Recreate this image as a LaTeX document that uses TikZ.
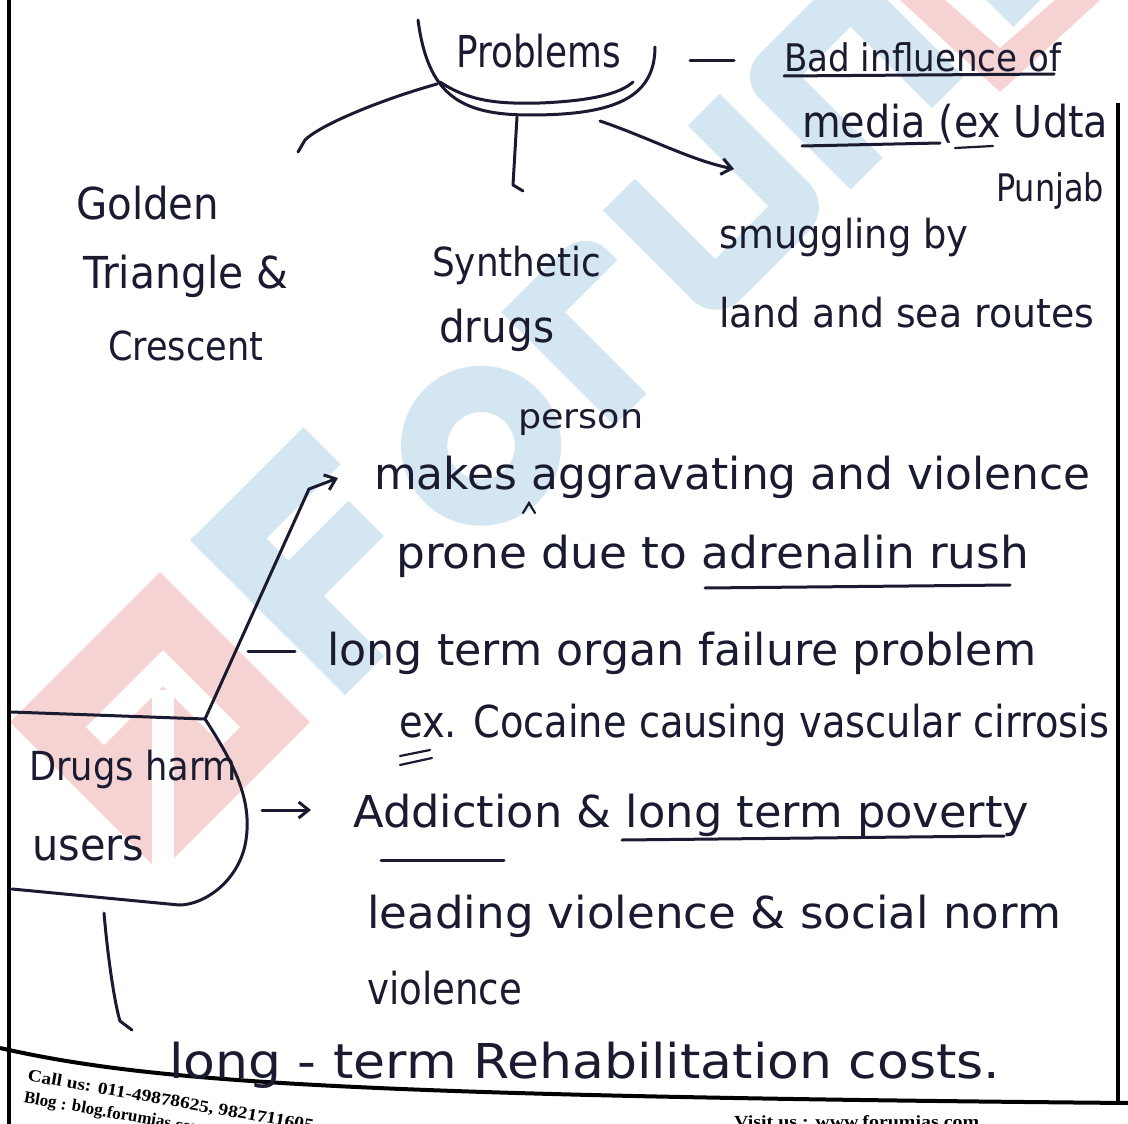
\documentclass[tikz,border=0pt]{standalone}
\usepackage{fontspec}
\setmainfont{DejaVu Sans}
\newfontfamily\footfont{Liberation Serif}
\usepackage{graphicx}
\usetikzlibrary{arrows.meta}

\definecolor{ink}{HTML}{1A1A30}
\definecolor{wmblue}{HTML}{D5E6F3}
\definecolor{wmred}{HTML}{F6D3D3}

% set a text at its natural height, stretched or squeezed to a given width (pt)
\newlength\hwlen
\newcommand\fitto[2]{\settowidth\hwlen{#2}\pgfmathsetmacro\hwf{#1/\hwlen}\scalebox{\hwf}[1]{#2}}

\tikzset{
  hw/.style={anchor=base west, inner sep=0pt, text=ink, font=\fontsize{#1}{#1}\selectfont},
  hw/.default=44,
  pen/.style={draw=ink, line width=3pt, line cap=round, line join=round},
  thinpen/.style={draw=ink, line width=2.2pt, line cap=round},
  tip/.style={-{Straight Barb[length=10pt,width=16pt]}},
  edge/.style={draw=black, line width=4pt},
  foot/.style={inner sep=0pt, text=black, font=\footfont\bfseries\fontsize{17}{22}\selectfont},
}

\begin{document}
\begin{tikzpicture}[x=1pt,y=-1pt]
\useasboundingbox (0,0) rectangle (1128,1124);
\fill[white] (0,0) rectangle (1128,1124);

% ---- watermark logo: red arrow diamond and block letters ----
\fill[wmred] (160,572) -- (310,722) -- (160,872) -- (10,722) -- cycle;
\fill[white] (163,650) -- (240,727) -- (222,745) -- (163,686) -- (104,745) -- (86,727) -- cycle;
\fill[white] (152,690) rectangle (174,872);
\fill[wmred] (900,0) -- (1000,92) -- (1100,0) -- (1055,0) -- (1000,48) -- (945,0) -- cycle;
\begin{scope}[shift={(345,695)}, rotate=45, scale=1.25, fill=wmblue]
  % F
  \fill (0,0) rectangle (44,-175);
  \fill (0,-175) rectangle (128,-133);
  \fill (0,-108) rectangle (112,-68);
  % o
  \fill[even odd rule] (218,-64) circle[radius=64] (218,-64) circle[radius=27];
  % r
  \fill (305,0) -- (305,-128) [rounded corners=30] -- (400,-128) [sharp corners] -- (400,-92) -- (341,-92) -- (341,0) -- cycle;
  % u
  \fill (420,-128) [rounded corners=34] -- (420,0) -- (552,0) [sharp corners] -- (552,-128) -- (516,-128) -- (516,-37) -- (456,-37) -- (456,-128) -- cycle;
  % m
  \fill (572,0) [rounded corners=30] -- (572,-128) -- (792,-128) [sharp corners] -- (792,0) -- (756,0) -- (756,-92) -- (700,-92) -- (700,0) -- (664,0) -- (664,-92) -- (608,-92) -- (608,0) -- cycle;
\end{scope}

% ---- page edges ----
\draw[edge] (9,0) -- (9,1124);
\draw[edge] (1118,103) -- (1118,1104);
\draw[edge] (0,1048) .. controls (150,1082) and (350,1096) .. (1128,1103);

% ---- top cluster ----
\node[hw] (prob) at (456,68) {\fitto{165}{Problems}};
\node[hw=38] (bad) at (784,72) {\fitto{277}{Bad influence of}};
\node[hw] (media) at (802,137) {\fitto{306}{media (ex Udta}};
\node[hw=38] (punjab) at (996,201) {\fitto{108}{Punjab}};

\node[hw] (golden) at (76,219) {\fitto{143}{Golden}};
\node[hw] (tri) at (83,288) {\fitto{205}{Triangle \&}};
\node[hw=40] (cres) at (108,360) {\fitto{155}{Crescent}};

\node[hw=40] (synth) at (432,276) {\fitto{169}{Synthetic}};
\node[hw] (drugs) at (439,342) {\fitto{115}{drugs}};

\node[hw=40] (smug) at (719,248) {\fitto{249}{smuggling by}};
\node[hw=40] (land) at (719,327) {\fitto{375}{land and sea routes}};

% cup round the heading
\draw[pen] (418,20) .. controls (428,95) and (460,115) .. (530,115)
           .. controls (610,115) and (655,100) .. (655,47);
\draw[pen] (440,82) .. controls (470,102) and (500,104) .. (540,103)
           .. controls (590,101) and (620,94) .. (633,82);
\coordinate (cupL) at (437,84);
\coordinate (cupB) at (517,117);
\coordinate (cupR) at (600,121);
\coordinate (toGold) at (298,152);
\coordinate (toSynth) at (523,191);
\coordinate (toSmug) at (734,169);
\draw[pen] (cupL) .. controls (380,100) and (320,125) .. (305,140) -- (toGold);
\draw[pen] (cupB) -- (513,185) -- (toSynth);
\draw[pen, tip] (cupR) .. controls (650,138) and (690,160) .. (toSmug);
\draw[pen] (690,61) -- (734,61);

\draw[pen] (784,76) -- (1054,74);
\draw[pen] (802,146) -- (940,143);
\draw[thinpen] (955,148) -- (993,146);

% ---- lower cluster ----
\node[hw=34] (person) at (518,428) {\fitto{125}{person}};
\draw[thinpen] (523,513) -- (529,503) -- (535,513);
\node[hw] (makes) at (374,489) {\fitto{716}{makes aggravating and violence}};
\node[hw] (prone) at (396,568) {\fitto{633}{prone due to adrenalin rush}};
\draw[pen] (705,588) -- (1010,585);

\node[hw] (organ) at (327,665) {\fitto{709}{long term organ failure problem}};
\node[hw] (coca) at (399,737) {\fitto{710}{ex. Cocaine causing vascular cirrosis}};
\draw[thinpen] (400,756) -- (430,750);
\draw[thinpen] (400,765) -- (432,758);

\node[hw] (addict) at (353,827) {\fitto{676}{Addiction \& long term poverty}};
\draw[pen] (381,860) -- (504,860);
\draw[pen] (622,840) -- (1004,836);
\node[hw] (lead) at (367,928) {\fitto{694}{leading violence \& social norm}};
\node[hw] (viol) at (367,1004) {\fitto{155}{violence}};
\node[hw=48] (rehab) at (169,1078) {\fitto{831}{long - term Rehabilitation costs.}};

\node[hw=40] (harm1) at (29,780) {\fitto{208}{Drugs harm}};
\node[hw] (harm2) at (32,860) {\fitto{112}{users}};

% bag round the root and its branches
\coordinate (J) at (205,719);
\coordinate (toMakes) at (338,478);
\coordinate (toOrgan) at (295,651);
\coordinate (toAddict) at (311,810);
\coordinate (toRehab) at (132,1030);
\draw[pen] (11,712) -- (J) .. controls (235,765) and (252,800) .. (246,840)
           .. controls (240,880) and (205,905) .. (179,905) -- (12,889);
\draw[pen] (J) -- (309,489);
\draw[pen, tip] (309,489) -- (toMakes);
\draw[pen] (248,651) -- (toOrgan);
\draw[pen, tip] (262,810) -- (toAddict);
\draw[pen] (104,913) .. controls (108,960) and (115,1005) .. (120,1021) -- (toRehab);

% ---- footer ----
\node[foot, rotate=-10, anchor=north west, align=left] (call) at (29,1069)
  {\fitto{290}{Call us: 011-49878625, 9821711605}\\Blog : blog.forumias.com};
\node[foot, anchor=base west] (visit) at (734,1127) {\fitto{245}{Visit us : www.forumias.com}};
\end{tikzpicture}
\end{document}
